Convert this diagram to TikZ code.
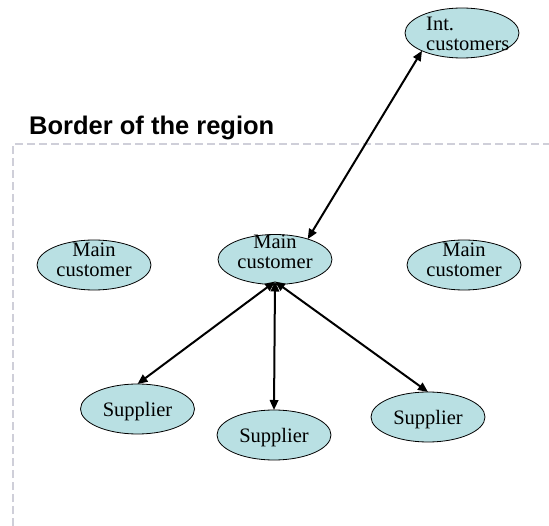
\documentclass[tikz,border=0pt]{standalone}
\usepackage{fontspec}
\setmainfont{Liberation Serif}
\newfontfamily\headfont{Liberation Sans}
\usetikzlibrary{shapes.geometric,arrows.meta}
\definecolor{bubfill}{HTML}{B9E0E3}
\definecolor{bordergray}{HTML}{CFCFD9}
\begin{document}
\begin{tikzpicture}[x=1pt,y=-1pt,
  bub/.style={ellipse,draw=black,line width=0.8pt,fill=bubfill,
    inner sep=0pt,outer sep=0pt,minimum width=114pt,minimum height=50pt},
  lbl/.style={inner sep=0pt,align=center,font=\fontsize{20.5}{20.5}\selectfont},
  link/.style={line width=2pt,{Triangle[length=10pt,width=8.5pt]}-{Triangle[length=10pt,width=8.5pt]}},
  regionline/.style={draw=bordergray,line width=2pt,dash pattern=on 8pt off 4pt}]
  \useasboundingbox (0,0) rectangle (549,526);

  % dashed border of the region and its heading
  \coordinate (bl) at (13,526);
  \coordinate (tl) at (13,144);
  \coordinate (tr) at (549,144);
  \draw[regionline] (bl) -- (tl) -- (tr);
  \node[anchor=base west,inner sep=0pt,font=\headfont\bfseries\fontsize{25.5}{28}\selectfont]
    (head) at (29,135) {Border of the region};

  % ellipses
  \node[bub] (int) at (462,33) {};
  \node[bub] (m1) at (94,265) {};
  \node[bub] (m2) at (275,259.5) {};
  \node[bub] (m3) at (464,265) {};
  \node[bub] (s1) at (137.5,409) {};
  \node[bub] (s2) at (274,435) {};
  \node[bub] (s3) at (428,417) {};

  % texts inside the ellipses (base = baseline of the last line)
  \node[lbl,align=left,anchor=base west] (intt) at ([xshift=-36pt,yshift=-18pt]int.center) {Int.\\customers};
  \node[lbl,anchor=base] (m1t) at ([yshift=-12pt]m1.center) {Main\\customer};
  \node[lbl,anchor=base] (m2t) at ([yshift=-9.5pt]m2.center) {Main\\customer};
  \node[lbl,anchor=base] (m3t) at ([yshift=-12pt]m3.center) {Main\\customer};
  \node[lbl,anchor=base] (s1t) at ([yshift=-7.5pt]s1.center) {Supplier};
  \node[lbl,anchor=base] (s2t) at ([yshift=-7.5pt]s2.center) {Supplier};
  \node[lbl,anchor=base] (s3t) at ([yshift=-7.5pt]s3.center) {Supplier};

  % connectors
  \coordinate (hub) at ([yshift=3pt]m2.south);
  \draw[link] (m2.32) -- (int.204);
  \draw[link] (hub) -- (s1.north);
  \draw[link] (hub) -- (s2.north);
  \draw[link] (hub) -- (s3.north);
\end{tikzpicture}
\end{document}
